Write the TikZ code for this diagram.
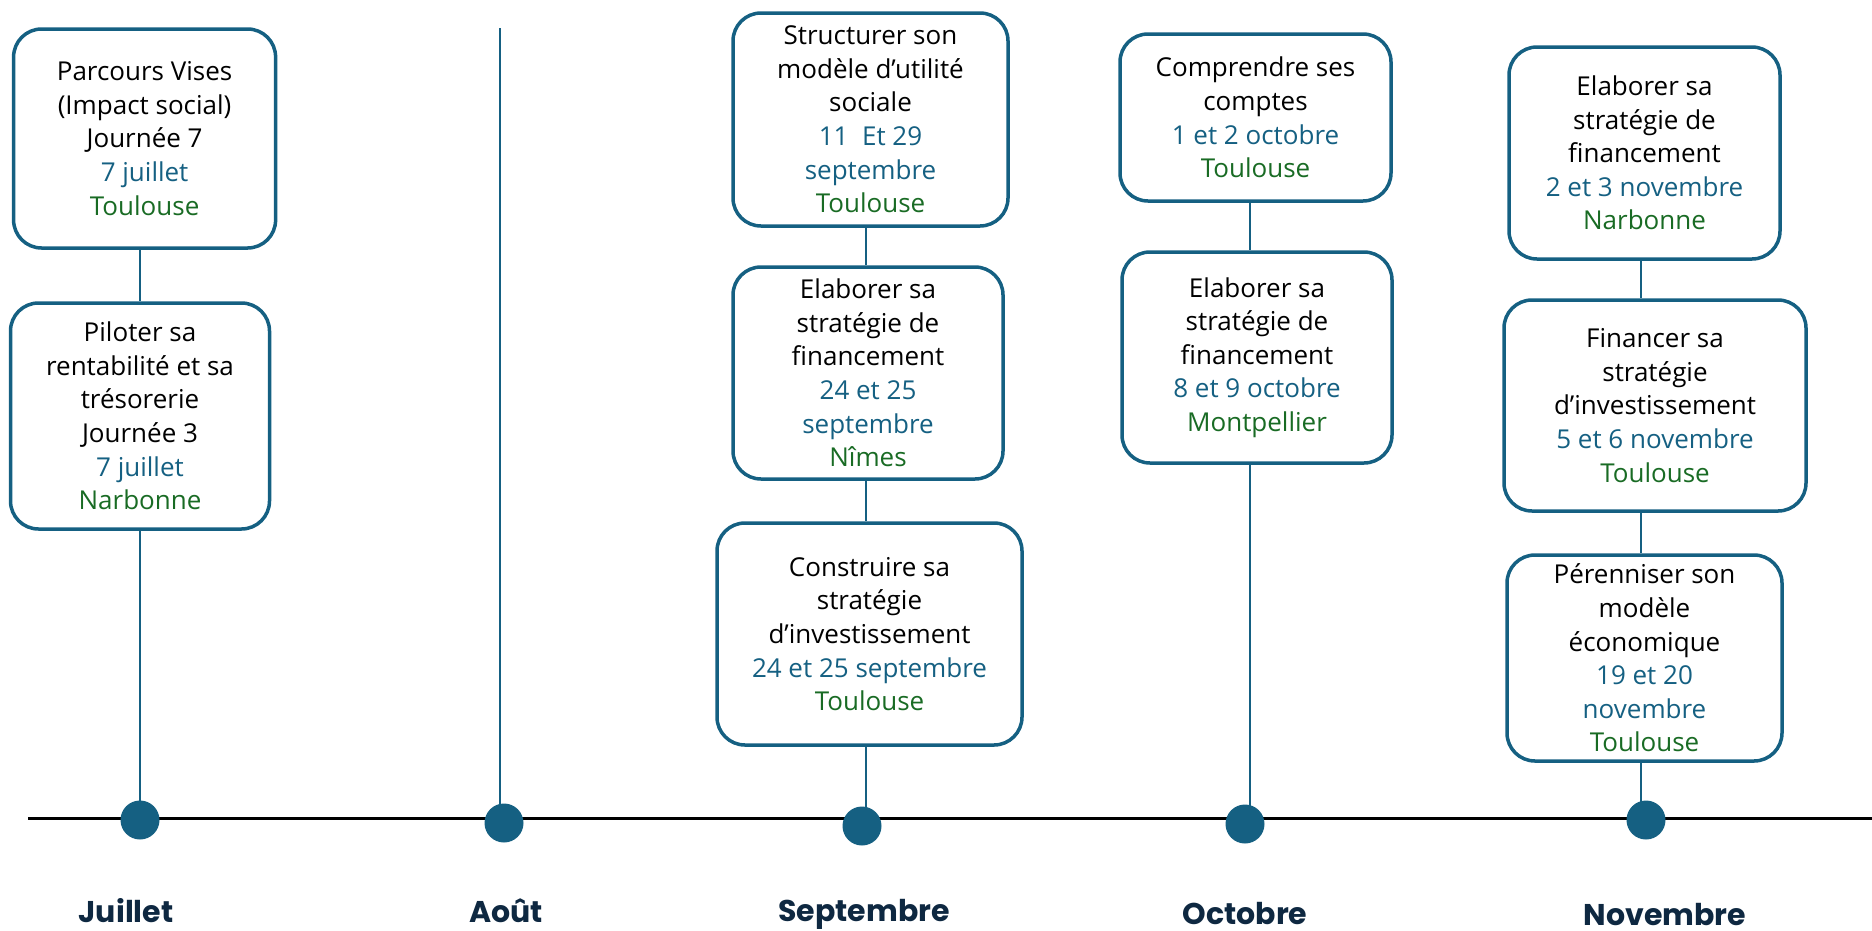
\documentclass[tikz,border=0pt]{standalone}
\usepackage{fontspec}
\setmainfont{Open Sans}
\newfontfamily\monthfont{Poppins}
\usetikzlibrary{positioning}

\definecolor{accent}{HTML}{156082}
\definecolor{place}{HTML}{196B24}
\definecolor{navy}{HTML}{0E2841}

\newcommand{\when}[1]{\textcolor{accent}{#1}}
\newcommand{\where}[1]{\textcolor{place}{#1}}

\begin{document}
\begin{tikzpicture}[x=1pt,y=-1pt,font=\fontsize{26}{33.6}\selectfont,
    session/.style={draw=accent,line width=3.5pt,rounded corners=28pt,
        align=center,inner sep=0pt},
    link/.style={draw=accent,line width=2.5pt},
    axis/.style={draw=black,line width=3pt},
    milestone/.style={circle,fill=accent,minimum size=39pt,inner sep=0pt},
    month/.style={font=\monthfont\bfseries\fontsize{30}{30}\selectfont,
        text=navy,anchor=base,inner sep=1pt}]
    \useasboundingbox (0,0) rectangle (1872,930);
    % columns of the connectors
    \coordinate (colJ) at (140,0);
    \coordinate (colS) at (866,0);
    \coordinate (colO) at (1250,0);
    \coordinate (colN) at (1641,0);
    \coordinate (topA) at (500,28);
    \coordinate (tlL) at (28,818);
    \coordinate (tlR) at (1872,818);
    % months
    \foreach \M/\dx/\dy/\mx/\my [count=\i] in
        {Juillet/140/820/126/922,Août/504/823/506/922,
         Septembre/862/826/864/921,Octobre/1245/824/1245/924,
         Novembre/1646/820/1665/925}
        {\coordinate (m-\i) at (\dx,\dy);
        \node[month] (month-\i) at (\mx,\my) {\M};}
    % sessions
    \node[session,minimum width=262pt,minimum height=219pt] (J1) at (144.6,138.5)
        {Parcours Vises\\(Impact social)\\Journée 7\\\when{7 juillet}\\\where{Toulouse}};
    \node[session,minimum width=259pt,minimum height=226pt] (J2) at (140,416)
        {Piloter sa\\rentabilité et sa\\trésorerie\\Journée 3\\\when{7 juillet}\\\where{Narbonne}};
    \node[session,minimum width=275pt,minimum height=213pt] (S1) at (870.5,119.5)
        {Structurer son\\modèle d’utilité\\sociale\\\when{11\ \ Et 29}\\\when{septembre}\\\where{Toulouse}};
    \node[session,minimum width=270pt,minimum height=212pt] (S2) at (868,373)
        {Elaborer sa\\stratégie de\\financement\\\when{24 et 25}\\\when{septembre}\\\where{Nîmes}};
    \node[session,minimum width=305pt,minimum height=222pt] (S3) at (869.5,634)
        {Construire sa\\stratégie\\d’investissement\\\when{24 et 25 septembre}\\\where{Toulouse}};
    \node[session,minimum width=271pt,minimum height=167pt] (O1) at (1255.5,117.5)
        {Comprendre ses\\comptes\\\when{1 et 2 octobre}\\\where{Toulouse}};
    \node[session,minimum width=270pt,minimum height=211pt] (O2) at (1257,357.5)
        {Elaborer sa\\stratégie de\\financement\\\when{8 et 9 octobre}\\\where{Montpellier}};
    \node[session,minimum width=271pt,minimum height=212pt] (N1) at (1644.5,153)
        {Elaborer sa\\stratégie de\\financement\\\when{2 et 3 novembre}\\\where{Narbonne}};
    \node[session,minimum width=302pt,minimum height=211pt] (N2) at (1655,405.5)
        {Financer sa\\stratégie\\d’investissement\\\when{5 et 6 novembre}\\\where{Toulouse}};
    \node[session,minimum width=275pt,minimum height=206pt] (N3) at (1644.5,658)
        {Pérenniser son\\modèle\\économique\\\when{19 et 20}\\\when{novembre}\\\where{Toulouse}};
    % connectors
    \draw[axis] (tlL) -- (tlR);
    \draw[link] (J1.south -| colJ) -- (J2.north -| colJ);
    \draw[link] (J2.south -| colJ) -- (m-1 -| colJ);
    \draw[link] (topA) -- (topA |- m-2);
    \draw[link] (S1.south -| colS) -- (S2.north -| colS);
    \draw[link] (S2.south -| colS) -- (S3.north -| colS);
    \draw[link] (S3.south -| colS) -- (m-3 -| colS);
    \draw[link] (O1.south -| colO) -- (O2.north -| colO);
    \draw[link] (O2.south -| colO) -- (m-4 -| colO);
    \draw[link] (N1.south -| colN) -- (N2.north -| colN);
    \draw[link] (N2.south -| colN) -- (N3.north -| colN);
    \draw[link] (N3.south -| colN) -- (m-5 -| colN);
    \foreach \i in {1,...,5}
        \node[milestone] (dot-\i) at (m-\i) {};
\end{tikzpicture}
\end{document}
